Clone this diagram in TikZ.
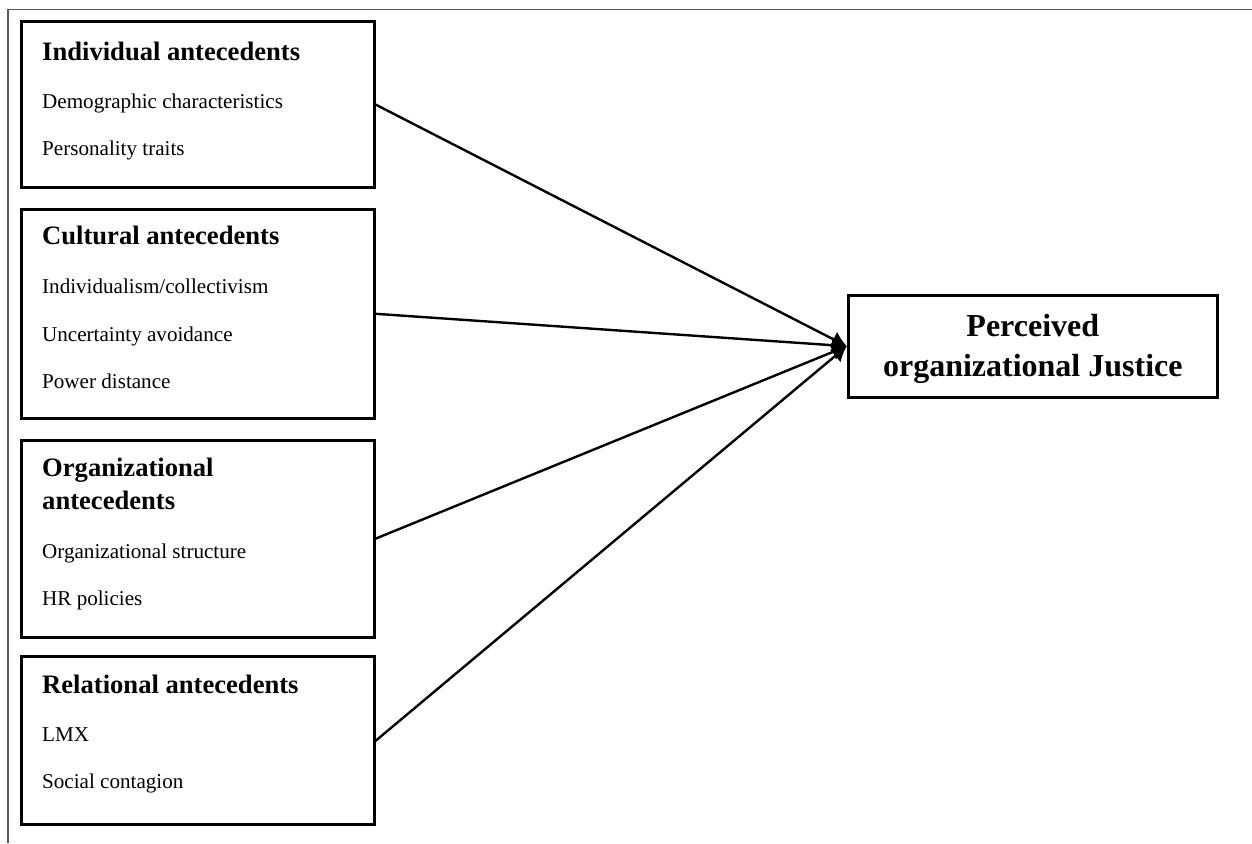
\documentclass[tikz,border=0pt]{standalone}
\usepackage{fontspec}
\setmainfont{Liberation Serif}
\usetikzlibrary{arrows.meta}
\begin{document}
\begin{tikzpicture}[x=1pt,y=-1pt,
  boxstyle/.style={draw=black,line width=3pt,rectangle,inner sep=0pt,minimum width=353pt},
  titletext/.style={anchor=base west,inner sep=0pt,font=\fontsize{26.6}{30}\selectfont\bfseries},
  itemtext/.style={anchor=base west,inner sep=0pt,font=\fontsize{21.1}{25}\selectfont},
  bigtext/.style={anchor=base,inner sep=0pt,font=\fontsize{32}{38}\selectfont\bfseries},
  link/.style={line width=2.4pt,-{Latex[length=15pt,width=17pt]}}]
\useasboundingbox (0,0) rectangle (1252,843);
\fill[white] (0,0) rectangle (1252,843);
% page frame
\coordinate (fa) at (7,9.5);
\coordinate (fb) at (1252,9.5);
\coordinate (fc) at (8,843);
\draw[line width=1.5pt,black!65] (fb) -- (fa);
\draw[line width=1.5pt,black!65] (8,9.5) -- (fc);
% boxes
\node[boxstyle,minimum height=165pt] (b1) at (197.5,104.5) {};
\node[boxstyle,minimum height=209pt] (b2) at (197.5,313.8) {};
\node[boxstyle,minimum height=197pt] (b3) at (197.5,538.7) {};
\node[boxstyle,minimum height=168pt] (b4) at (197.5,740.9) {};
\node[draw=black,line width=3pt,rectangle,inner sep=0pt,minimum width=369pt,minimum height=102pt] (tgt) at (1032.8,346.2) {};
% texts
\node[titletext] (t1) at (42,60) {Individual antecedents};
\node[itemtext] (t1a) at (42,108.3) {Demographic characteristics};
\node[itemtext] (t1b) at (42,155) {Personality traits};
\node[titletext] (t2) at (42,244.3) {Cultural antecedents};
\node[itemtext] (t2a) at (42,293.3) {Individualism/collectivism};
\node[itemtext] (t2b) at (42,341.7) {Uncertainty avoidance};
\node[itemtext] (t2c) at (42,388.3) {Power distance};
\node[titletext] (t3) at (42,476.7) {Organizational};
\node[titletext] (t3x) at (42,509) {antecedents};
\node[itemtext] (t3a) at (42,558.3) {Organizational structure};
\node[itemtext] (t3b) at (42,605.7) {HR policies};
\node[titletext] (t4) at (42,693.3) {Relational antecedents};
\node[itemtext] (t4a) at (42,741.7) {LMX};
\node[itemtext] (t4b) at (42,788.3) {Social contagion};
\node[bigtext] (tt1) at (1032.8,336.7) {Perceived};
\node[bigtext] (tt2) at (1032.8,376) {organizational Justice};
% connectors
\draw[link] (b1.east) -- (tgt.west);
\draw[link] (b2.east) -- (tgt.west);
\draw[link] (b3.east) -- (tgt.west);
\draw[link] (b4.east) -- (tgt.west);
\end{tikzpicture}
\end{document}
